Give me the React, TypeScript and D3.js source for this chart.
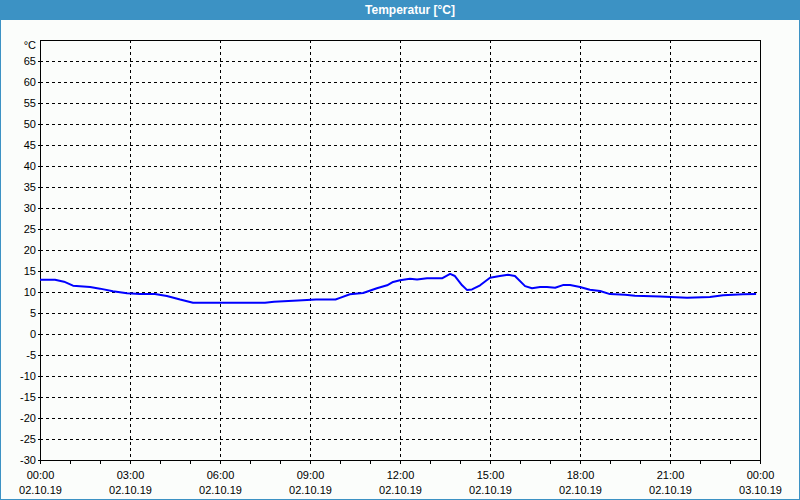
import React from "react";
import * as d3 from "d3";

const hours = [0, 0.5, 0.8, 1.1, 1.67, 2.0, 2.43, 2.9, 3.33, 3.83, 4.23, 4.67, 5.1, 6.0, 7.5, 7.8, 8.6, 9.2, 9.85, 10.0, 10.33, 10.77, 11.23, 11.57, 11.77, 12.0, 12.33, 12.57, 12.9, 13.4, 13.67, 13.83, 14.07, 14.23, 14.4, 14.67, 15.0, 15.33, 15.6, 15.83, 16.17, 16.4, 16.67, 16.9, 17.17, 17.43, 17.67, 18.0, 18.33, 18.67, 19.0, 19.5, 19.83, 20.67, 21.57, 22.33, 22.77, 23.43, 23.87];
const temps = [12.9, 12.9, 12.45, 11.5, 11.2, 10.8, 10.2, 9.7, 9.5, 9.5, 9.05, 8.2, 7.45, 7.45, 7.45, 7.7, 7.95, 8.2, 8.2, 8.6, 9.45, 9.75, 10.9, 11.6, 12.4, 12.8, 13.15, 12.95, 13.25, 13.25, 14.3, 13.8, 11.6, 10.5, 10.6, 11.6, 13.4, 13.8, 14.1, 13.8, 11.4, 10.9, 11.2, 11.2, 11.0, 11.65, 11.65, 11.2, 10.55, 10.25, 9.5, 9.35, 9.1, 8.9, 8.65, 8.8, 9.2, 9.45, 9.5];

const yTicks = [-30, -25, -20, -15, -10, -5, 0, 5, 10, 15, 20, 25, 30, 35, 40, 45, 50, 55, 60, 65];
const xTickHours = [0, 3, 6, 9, 12, 15, 18, 21, 24];
const xTimeLabels = ["00:00", "03:00", "06:00", "09:00", "12:00", "15:00", "18:00", "21:00", "00:00"];
const xDateLabels = ["02.10.19", "02.10.19", "02.10.19", "02.10.19", "02.10.19", "02.10.19", "02.10.19", "02.10.19", "03.10.19"];
const title = "Temperatur [°C]";
const unit = "°C";

export default function App() {
  const W = 800, H = 500;
  const left = 40, right = 760, top = 40, bottom = 460;
  const x = d3.scaleLinear().domain([0, 24]).range([left, right]);
  const y = d3.scaleLinear().domain([-30, 70]).range([bottom, top]);
  const line = d3.line<number>().x((_, i) => x(hours[i])).y((d) => y(d)).curve(d3.curveLinear);
  const px = (v: number) => Math.round(v) + 0.5;
  const font = "'Liberation Sans', Arial, sans-serif";
  const minor = d3.range(0, 25);

  return (
    <svg width={W} height={H} style={{ position: "absolute", left: 0, top: 0, display: "block" }} fontFamily={font}>
      <rect x={0} y={0} width={W} height={H} fill="#fbfdfb" />
      <rect x={0} y={0} width={W} height={20} fill="#3c92c4" />
      <line x1={0.5} y1={20} x2={0.5} y2={H} stroke="#3c92c4" />
      <line x1={W - 0.5} y1={20} x2={W - 0.5} y2={H} stroke="#3c92c4" />
      <line x1={0} y1={H - 0.5} x2={W} y2={H - 0.5} stroke="#3c92c4" />
      <text x={410} y={14} fill="#fff" fontWeight="bold" fontSize={12} textAnchor="middle">{title}</text>

      {yTicks.filter((t) => t > -30).map((t) => (
        <line key={"hg" + t} x1={left} x2={right} y1={px(y(t))} y2={px(y(t))} stroke="#000" strokeDasharray="3,3" />
      ))}
      {xTickHours.filter((h) => h > 0 && h < 24).map((h) => (
        <line key={"vg" + h} x1={px(x(h))} x2={px(x(h))} y1={top} y2={bottom} stroke="#000" strokeDasharray="3,3" />
      ))}
      <rect x={left + 0.5} y={top + 0.5} width={right - left} height={bottom - top} fill="none" stroke="#000" />

      {yTicks.map((t) => (
        <g key={"yt" + t}>
          <line x1={left - 2} x2={left} y1={px(y(t))} y2={px(y(t))} stroke="#000" />
          <text x={36} y={y(t) + 4} fontSize={11} textAnchor="end" fill="#000">{t}</text>
        </g>
      ))}
      <text x={36} y={49} fontSize={11} textAnchor="end" fill="#000">{unit}</text>

      {minor.map((h) => (
        <line key={"mt" + h} x1={px(x(h))} x2={px(x(h))} y1={bottom} y2={bottom + 4} stroke="#000" />
      ))}
      {xTickHours.map((h, i) => (
        <g key={"xl" + i}>
          <text x={x(h) + 0.5} y={479} fontSize={11} textAnchor="middle" fill="#000">{xTimeLabels[i]}</text>
          <text x={x(h) + 0.5} y={494} fontSize={11} textAnchor="middle" fill="#000">{xDateLabels[i]}</text>
        </g>
      ))}

      <path d={line(temps) || ""} fill="none" stroke="#0000ff" strokeWidth={2} strokeLinejoin="round" />
    </svg>
  );
}
